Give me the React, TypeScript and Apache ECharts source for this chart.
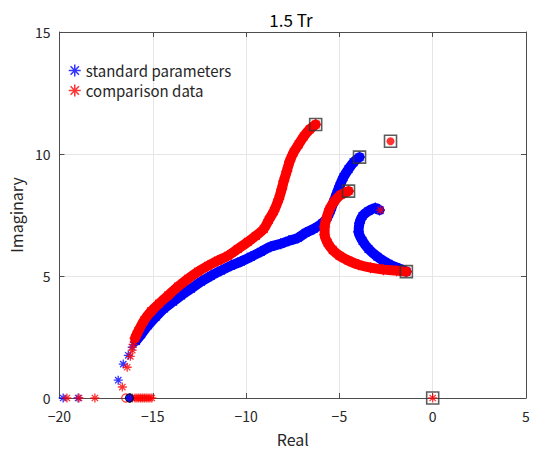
import React, { useEffect, useRef } from "react";
import * as echarts from "echarts";

type Pt = [number, number];

// Root-locus branches, standard parameters (blue)
const standardBranchUpper: Pt[] = [
  [-3.92, 9.87], [-4.24, 9.66], [-4.51, 9.38], [-4.78, 9.05], [-4.99, 8.68],
  [-5.15, 8.36], [-5.31, 8.03], [-5.47, 7.7], [-5.63, 7.42], [-5.9, 7.17],
  [-6.38, 6.93], [-6.81, 6.77], [-7.23, 6.56], [-7.71, 6.44], [-8.14, 6.32],
  [-8.68, 6.2], [-9.21, 5.99], [-9.74, 5.79], [-10.28, 5.59], [-10.81, 5.42],
  [-11.35, 5.22], [-11.88, 5.01], [-12.41, 4.77], [-12.95, 4.48], [-13.48, 4.2],
  [-13.91, 3.95], [-14.39, 3.67], [-14.82, 3.34], [-15.25, 2.98], [-15.62, 2.61],
  [-15.9, 2.34],
];
const standardBranchArc: Pt[] = [
  [-1.41, 5.18], [-1.78, 5.3], [-2.37, 5.5], [-2.96, 5.79], [-3.44, 6.11],
  [-3.76, 6.44], [-3.97, 6.81], [-3.92, 7.17], [-3.76, 7.46], [-3.44, 7.66],
  [-3.07, 7.79], [-2.85, 7.7],
];
const standardSparse: Pt[] = [
  [-15.99, 2.28], [-16.1, 2.08], [-16.31, 1.75], [-16.58, 1.39], [-16.85, 0.73],
  [-19.8, 0], [-19.0, 0], [-16.25, 0], [-16.2, 0],
];

// Root-locus branches, comparison data (red)
const comparisonBranchUpper: Pt[] = [
  [-6.27, 11.21], [-6.59, 11.01], [-6.91, 10.72], [-7.18, 10.4], [-7.45, 10.07],
  [-7.66, 9.7], [-7.82, 9.29], [-7.98, 8.89], [-8.09, 8.56], [-8.25, 8.15],
  [-8.51, 7.66], [-8.78, 7.3], [-9.05, 6.93], [-9.48, 6.64], [-9.9, 6.4],
  [-10.44, 6.11], [-10.97, 5.83], [-11.51, 5.63], [-12.04, 5.42], [-12.57, 5.18],
  [-13.11, 4.89], [-13.64, 4.57], [-14.18, 4.2], [-14.66, 3.87], [-15.09, 3.55],
  [-15.46, 3.18], [-15.78, 2.73], [-15.95, 2.45],
];
const comparisonBranchArc: Pt[] = [
  [-4.51, 8.48], [-4.94, 8.32], [-5.26, 8.07], [-5.52, 7.75], [-5.68, 7.38],
  [-5.79, 7.01], [-5.79, 6.69], [-5.63, 6.36], [-5.36, 6.07], [-4.99, 5.83],
  [-4.51, 5.63], [-3.97, 5.46], [-3.33, 5.34], [-2.64, 5.26], [-1.94, 5.22],
  [-1.41, 5.18],
];
const comparisonSparse: Pt[] = [
  [-16.05, 2.2], [-16.1, 1.96], [-16.2, 1.71], [-16.37, 1.26], [-16.63, 0.45],
  [-19.6, 0], [-18.95, 0], [-18.1, 0],
  [-16.1, 0], [-15.95, 0], [-15.85, 0], [-15.75, 0], [-15.65, 0], [-15.55, 0],
  [-15.45, 0], [-15.35, 0], [-15.25, 0], [-15.15, 0], [-15.05, 0],
  [-2.8, 7.7], [0, 0],
];
const comparisonFixed: Pt[] = [[-2.26, 10.52], [-4.51, 8.48], [-6.27, 11.21], [-1.41, 5.18]];

// Starting points (square markers) and real-axis circle markers
const startPoints: Pt[] = [
  [-6.27, 11.21], [-3.92, 9.87], [-4.51, 8.48], [-2.26, 10.52], [-1.41, 5.18], [0, 0],
];
const standardZero: Pt[] = [[-16.25, 0]];
const comparisonZero: Pt[] = [[-16.45, 0]];

const xTicks = { min: -20, max: 5, step: 5 };
const yTicks = { min: 0, max: 15, step: 5 };

const BLUE = "#0000ff";
const RED = "#ff0000";
const STAR = "path://M5,0L5,10M0,5L10,5M1.5,1.5L8.5,8.5M8.5,1.5L1.5,8.5";
const FONT = "'Noto Sans CJK JP', 'Noto Sans', sans-serif";
const AXIS_COLOR = "#4d4d4d";
const TEXT_COLOR = "#262626";

function band(name: string, data: Pt[], color: string, z: number) {
  return {
    name,
    type: "line",
    data,
    smooth: 0.3,
    z,
    symbol: STAR,
    symbolSize: 11,
    showSymbol: true,
    showAllSymbol: true,
    itemStyle: { color, borderColor: color, borderWidth: 1.2 },
    lineStyle: { color, width: 10, cap: "round", join: "round" },
    silent: true,
  };
}

function stars(name: string, data: Pt[], color: string, z: number, size = 9) {
  return {
    name,
    type: "scatter",
    data,
    z,
    symbol: STAR,
    symbolSize: size,
    itemStyle: { color, borderColor: color, borderWidth: 1.3 },
    silent: true,
  };
}

export default function App() {
  const ref = useRef<HTMLDivElement>(null);

  useEffect(() => {
    document.body.style.margin = "0";
    if (!ref.current) return;
    const chart = echarts.init(ref.current, undefined, { renderer: "svg" });

    const axisBase = {
      axisLine: { show: true, onZero: false, lineStyle: { color: AXIS_COLOR, width: 1 } },
      axisTick: { show: true, inside: true, length: 5, lineStyle: { color: AXIS_COLOR } },
      splitLine: { show: false },
    };

    chart.setOption({
      animation: false,
      backgroundColor: "#ffffff",
      title: {
        text: "1.5 Tr",
        left: 286,
        top: 6,
        textAlign: "center",
        textStyle: { fontFamily: FONT, fontSize: 17, fontWeight: "normal", color: "#000" },
      },
      legend: {
        left: 63,
        top: 58,
        orient: "vertical",
        itemWidth: 12,
        itemHeight: 12,
        itemGap: 5,
        selectedMode: false,
        textStyle: { fontFamily: FONT, fontSize: 15, color: TEXT_COLOR },
        data: [
          { name: "standard parameters", icon: STAR, itemStyle: { color: BLUE, borderColor: BLUE, borderWidth: 1.5 } },
          { name: "comparison data", icon: STAR, itemStyle: { color: RED, borderColor: RED, borderWidth: 1.5 } },
        ],
      },
      grid: { left: 58, right: 9, top: 32, bottom: 52, containLabel: false },
      xAxis: [
        {
          ...axisBase,
          type: "value",
          min: xTicks.min,
          max: xTicks.max,
          interval: xTicks.step,
          position: "bottom",
          name: "Real",
          nameLocation: "middle",
          nameGap: 33,
          nameTextStyle: { fontFamily: FONT, fontSize: 16, color: TEXT_COLOR },
          axisLabel: {
            fontFamily: FONT,
            fontSize: 14,
            color: TEXT_COLOR,
            margin: 11,
            formatter: (v: number) => (v < 0 ? "\u2212" + Math.abs(v) : String(v)),
          },
          splitLine: { show: true, lineStyle: { color: "#e6e6e6", width: 1 } },
        },
        {
          ...axisBase,
          type: "value",
          min: xTicks.min,
          max: xTicks.max,
          interval: xTicks.step,
          position: "top",
          axisLabel: { show: false },
        },
      ],
      yAxis: [
        {
          ...axisBase,
          type: "value",
          min: yTicks.min,
          max: yTicks.max,
          interval: yTicks.step,
          position: "left",
          name: "Imaginary",
          nameLocation: "middle",
          nameGap: 31,
          nameTextStyle: { fontFamily: FONT, fontSize: 16, color: TEXT_COLOR },
          axisLabel: { fontFamily: FONT, fontSize: 14, color: TEXT_COLOR, margin: 9 },
          splitLine: { show: true, lineStyle: { color: "#e6e6e6", width: 1 } },
        },
        {
          ...axisBase,
          type: "value",
          min: yTicks.min,
          max: yTicks.max,
          interval: yTicks.step,
          position: "right",
          axisLabel: { show: false },
        },
      ],
      series: [
        band("standard-upper", standardBranchUpper, BLUE, 2),
        band("standard-arc", standardBranchArc, BLUE, 2),
        stars("standard parameters", standardSparse, BLUE, 3),
        band("comparison-upper", comparisonBranchUpper, RED, 4),
        band("comparison-arc", comparisonBranchArc, RED, 4),
        stars("comparison data", comparisonSparse, RED, 5),
        {
          name: "comparison-fixed",
          type: "scatter",
          data: comparisonFixed,
          z: 5,
          symbol: "circle",
          symbolSize: 8,
          itemStyle: { color: RED },
          silent: true,
        },
        {
          name: "comparison-zero",
          type: "scatter",
          data: comparisonZero,
          z: 5,
          symbol: "circle",
          symbolSize: 8,
          itemStyle: { color: "rgba(0,0,0,0)", borderColor: RED, borderWidth: 1.2 },
          silent: true,
        },
        {
          name: "standard-zero",
          type: "scatter",
          data: standardZero,
          z: 6,
          symbol: "circle",
          symbolSize: 8,
          itemStyle: { color: BLUE, borderColor: "#000", borderWidth: 1.2 },
          silent: true,
        },
        {
          name: "start",
          type: "scatter",
          data: startPoints,
          z: 7,
          symbol: "rect",
          symbolSize: 12,
          itemStyle: { color: "rgba(0,0,0,0)", borderColor: "#333", borderWidth: 1.6 },
          silent: true,
        },
      ],
    });

    return () => chart.dispose();
  }, []);

  return <div ref={ref} style={{ width: 535, height: 452 }} />;
}
